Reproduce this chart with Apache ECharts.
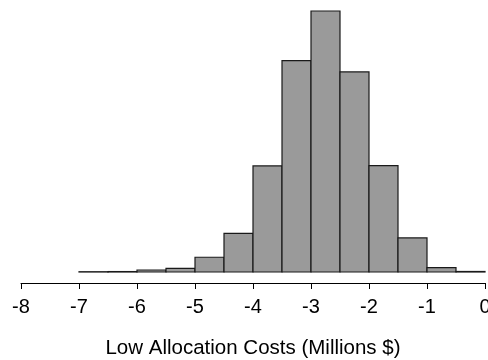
<!DOCTYPE html>
<html>
<head>
<meta charset="utf-8">
<script src="https://cdn.jsdelivr.net/npm/echarts@6/dist/echarts.min.js"></script>
<style>html,body{margin:0;padding:0;background:#fff;}#c{width:488px;height:360px;}</style>
</head>
<body>
<div id="c"></div>
<script>
var binStarts = [-7, -6.5, -6, -5.5, -5, -4.5, -4, -3.5, -3, -2.5, -2, -1.5, -1, -0.5];
var binWidth = 0.5;
var counts = [3, 5, 23, 42, 169, 443, 1215, 2421, 2990, 2292, 1218, 390, 49, 6];
var xTicks = [-8, -7, -6, -5, -4, -3, -2, -1, 0];
var xTitle = 'Low Allocation Costs (Millions $)';

var data = binStarts.map(function (s, i) { return [s, s + binWidth, counts[i]]; });

var chart = echarts.init(document.getElementById('c'));
chart.setOption({
  animation: false,
  grid: { left: 21, right: 3, top: 11, bottom: 88, outerBoundsMode: 'none' },
  xAxis: {
    type: 'value', min: xTicks[0], max: xTicks[xTicks.length - 1], interval: 1,
    offset: 11,
    axisLine: { show: true, onZero: false, lineStyle: { color: '#000', width: 1 } },
    axisTick: { show: true, inside: false, length: 6, lineStyle: { color: '#000', width: 1 } },
    axisLabel: { color: '#000', fontSize: 20, fontFamily: 'Liberation Sans, Arial, sans-serif', margin: 14 },
    splitLine: { show: false },
    name: xTitle, nameLocation: 'middle', nameGap: 55,
    nameTextStyle: { color: '#000', fontSize: 20.5, fontFamily: 'Liberation Sans, Arial, sans-serif' }
  },
  yAxis: { type: 'value', min: 0, max: 2990, show: false },
  series: [{
    type: 'custom',
    data: data,
    renderItem: function (params, api) {
      var p0 = api.coord([api.value(0), 0]);
      var p1 = api.coord([api.value(1), api.value(2)]);
      return {
        type: 'rect',
        shape: { x: p0[0], y: p1[1], width: p1[0] - p0[0], height: p0[1] - p1[1] },
        style: { fill: '#9a9a9a', stroke: '#1a1a1a', lineWidth: 1.2 }
      };
    }
  }]
});
</script>
</body>
</html>
